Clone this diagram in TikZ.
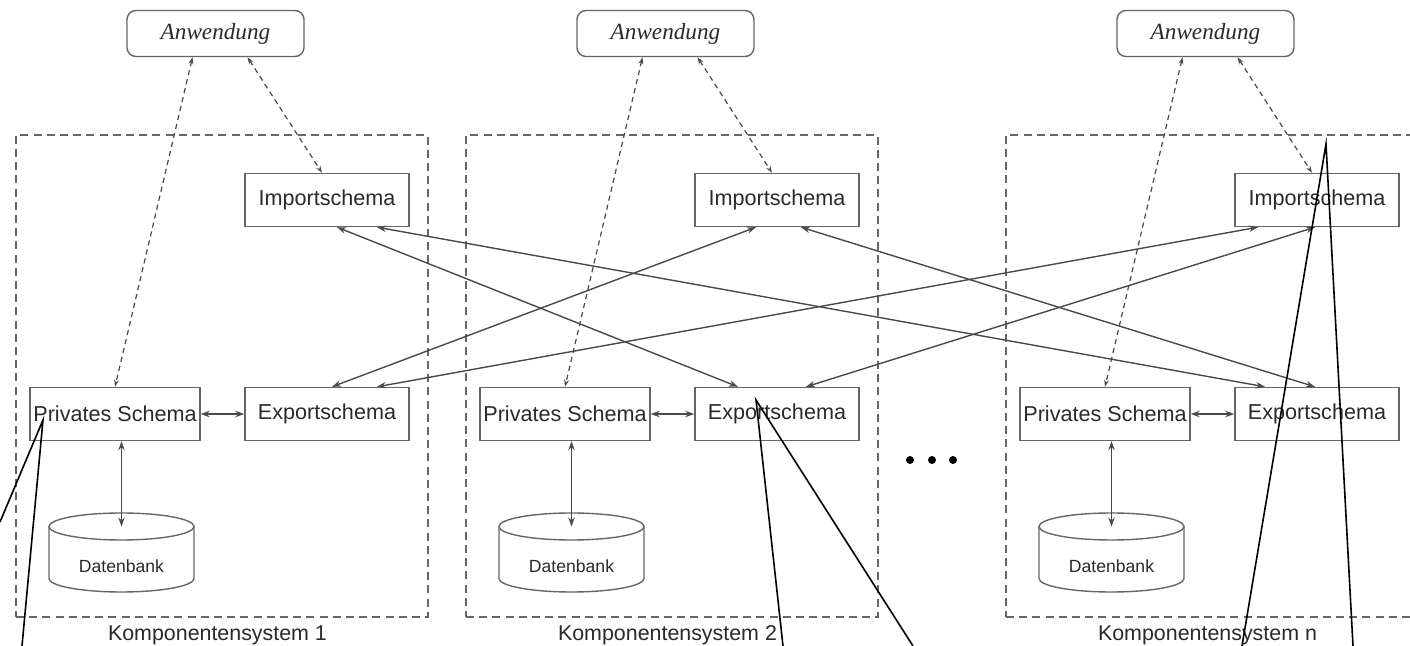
\documentclass[tikz,border=0pt]{standalone}
\usepackage{fontspec}
\setmainfont{Liberation Sans}
\newfontfamily\appfont{Liberation Serif}
\usetikzlibrary{arrows.meta,calc}
\definecolor{linegray}{HTML}{4A4A4A}
\definecolor{boxgray}{HTML}{666666}
\definecolor{framegray}{HTML}{666666}
\definecolor{textgray}{HTML}{2A2A2A}
\begin{document}
\begin{tikzpicture}[x=0.5pt,y=-0.5pt,
  schemabox/.style={draw=boxgray, line width=0.7pt, minimum width=82pt,
    minimum height=26.5pt, inner sep=0pt, text=textgray,
    font=\fontsize{10.8}{13}\selectfont},
  privbox/.style={schemabox, minimum width=85pt},
  appbox/.style={draw=boxgray, line width=0.7pt, rounded corners=4.5pt,
    minimum width=88.5pt, minimum height=23pt, inner sep=0pt, text=textgray,
    font=\appfont\itshape\fontsize{11.6}{13}\selectfont},
  container/.style={draw=framegray, line width=0.85pt, dash pattern=on 4pt off 2.6pt,
    minimum width=206pt, minimum height=241pt, inner sep=0pt},
  syslabel/.style={text=textgray, inner sep=0pt, font=\fontsize{10.7}{13}\selectfont},
  dblabel/.style={text=textgray, inner sep=0pt, font=\fontsize{8.8}{11}\selectfont},
  dbline/.style={draw=boxgray, line width=0.7pt},
  link/.style={draw=linegray, line width=0.7pt,
    {Stealth[length=4.5pt,width=3.2pt]}-{Stealth[length=4.5pt,width=3.2pt]}},
  applink/.style={draw=linegray, line width=0.6pt, dash pattern=on 2.6pt off 2pt,
    {Stealth[length=3.5pt,width=2.4pt,open]}-{Stealth[length=3.5pt,width=2.4pt,open]}},
  note/.style={draw=black, line width=0.8pt},
  dot/.style={circle, fill=black, inner sep=0pt, minimum size=4pt}]
\useasboundingbox (0,0) rectangle (1410,646);
\fill[white] (0,0) rectangle (1410,646);
\clip (0,0) rectangle (1410,646);

% one component system per offset
\foreach \s/\dx in {1/0,2/450,n/990}{
  \node[container] (sys\s) at (222+\dx,376) {};
  \node[syslabel] (lab\s) at (217.5+\dx,635) {Komponentensystem \s};
  \node[appbox] (anw\s) at (215.5+\dx,33.5) {Anwendung};
  \node[schemabox] (imp\s) at (327+\dx,200) {Importschema};
  \node[schemabox] (exp\s) at (327+\dx,414) {Exportschema};
  \node[privbox] (priv\s) at (115+\dx,414) {Privates Schema};
  % database cylinder
  \node[dblabel] (db\s) at (121.5+\dx,566) {Datenbank};
  \coordinate (dbtop\s) at ($(db\s)+(0,-39.5)$);
  \draw[dbline] ($(db\s)+(-72.5,-39.5)$) -- ($(db\s)+(-72.5,12.5)$)
    arc[start angle=180,end angle=360,x radius=36.25pt,y radius=6.75pt]
    -- ($(db\s)+(72.5,-39.5)$);
  \draw[dbline] (dbtop\s) ellipse[x radius=36.25pt,y radius=6.75pt];
  % local connections
  \draw[link] (priv\s.east) -- (exp\s.west);
  \draw[link] (dbtop\s |- priv\s.south) -- (dbtop\s);
  \draw[applink] ([xshift=-11.5pt]anw\s.south) -- (priv\s.north);
  \draw[applink] ([xshift=16pt]anw\s.south) -- ([xshift=-2.5pt]imp\s.north);
}

% import/export links between the systems
\draw[link] ([xshift=5pt]imp1.south) -- ([xshift=-19.5pt]exp2.north);
\draw[link] ([xshift=25pt]imp1.south) -- ([xshift=-26pt]expn.north);
\draw[link] ([xshift=2.5pt]exp1.north) -- ([xshift=-10.5pt]imp2.south);
\draw[link] ([xshift=25pt]exp1.north) -- ([xshift=-29.5pt]impn.south);
\draw[link] ([xshift=12pt]imp2.south) -- ([xshift=-1pt]expn.north);
\draw[link] ([xshift=14.5pt]exp2.north) -- ([xshift=-1pt]impn.south);

% ellipsis between the systems
\node[dot] (dotA) at (910,460) {};
\node[dot] (dotB) at (932,460) {};
\node[dot] (dotC) at (953,460) {};

% leader lines
\coordinate (pinA) at (43,420);
\coordinate (endA1) at (0,522);
\coordinate (endA2) at (22,646);
\coordinate (pinB) at (756,400);
\coordinate (endB1) at (783,646);
\coordinate (endB2) at (913,646);
\coordinate (pinC) at (1326,144);
\coordinate (endC1) at (1242,646);
\coordinate (endC2) at (1353,646);
\draw[note] (endA1) -- (pinA) -- (endA2);
\draw[note] (endB1) -- (pinB) -- (endB2);
\draw[note] (endC1) -- (pinC) -- (endC2);
\end{tikzpicture}
\end{document}
